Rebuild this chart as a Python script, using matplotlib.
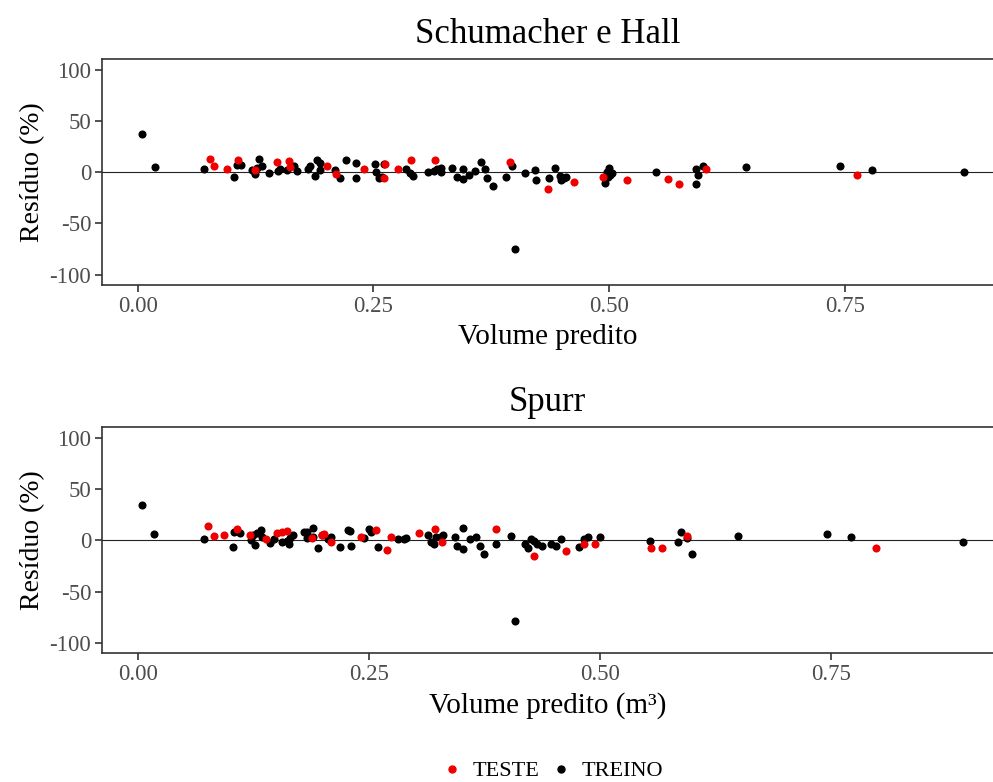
import matplotlib
matplotlib.use('Agg')
import matplotlib.pyplot as plt
from matplotlib.lines import Line2D

plt.rcParams['font.family'] = ['Liberation Serif', 'DejaVu Serif']
plt.rcParams['axes.unicode_minus'] = False

# Schumacher e Hall - residuals
sh_teste_x = [0.077, 0.081, 0.095, 0.106, 0.124, 0.148, 0.160, 0.161, 0.201, 0.210, 0.240, 0.262,
              0.261, 0.276, 0.290, 0.315, 0.395, 0.435, 0.463, 0.493, 0.519, 0.562, 0.574, 0.603, 0.763]
sh_teste_y = [12.6, 6.1, 3.2, 11.9, 2.2, 10.0, 10.5, 5.4, 6.3, -1.8, 3.2, 8.3,
              -5.8, 3.2, 11.9, 11.9, 9.7, -16.5, -10.0, -4.2, -7.8, -6.5, -11.3, 3.2, -2.6]

sh_treino_x = [0.005, 0.018, 0.070, 0.102, 0.105, 0.110, 0.121, 0.124, 0.126, 0.129, 0.132, 0.139,
               0.149, 0.151, 0.158, 0.166, 0.169, 0.181, 0.183, 0.190, 0.188, 0.193, 0.193, 0.209,
               0.215, 0.221, 0.231, 0.231, 0.252, 0.253, 0.256, 0.261, 0.259, 0.285, 0.289, 0.292,
               0.308, 0.314, 0.317, 0.322, 0.322, 0.333, 0.339, 0.345, 0.345, 0.351, 0.358, 0.364,
               0.368, 0.370, 0.377, 0.391, 0.397, 0.400, 0.411, 0.421, 0.422, 0.436, 0.442, 0.448,
               0.449, 0.452, 0.454, 0.495, 0.500, 0.498, 0.503, 0.499, 0.501, 0.550, 0.592, 0.594,
               0.592, 0.599, 0.645, 0.745, 0.779, 0.876]
sh_treino_y = [37.7, 5.4, 3.5, -4.9, 7.0, 7.5, 2.2, -2.0, 4.5, 12.6, 6.5, -0.5,
               1.0, 3.0, 2.0, 6.5, 1.5, 3.0, 6.0, 11.5, -3.6, 8.5, 2.2, 2.2,
               -5.6, 11.5, 8.5, -6.0, 8.3, 0.0, -5.8, 7.7, -4.2, 3.2, -1.0, -3.6,
               0.0, 1.3, 3.2, 4.5, 0.6, 3.9, -4.5, 2.7, -6.3, -2.6, 1.3, 9.7,
               3.2, -5.8, -13.9, -4.2, 6.4, -75.2, -1.0, 2.2, -7.5, -5.8, 4.5, -3.3,
               -7.5, -5.2, -4.2, -10.6, 3.9, 0.0, -1.0, -4.2, -2.6, 0.0, 2.9, -2.9,
               -11.6, 6.1, 4.8, 6.4, 2.5, 0.6]

# Spurr - residuals
sp_teste_x = [0.076, 0.082, 0.093, 0.107, 0.121, 0.139, 0.151, 0.156, 0.161, 0.189, 0.199, 0.202,
              0.209, 0.241, 0.258, 0.270, 0.274, 0.304, 0.321, 0.329, 0.388, 0.429, 0.463, 0.483,
              0.495, 0.555, 0.567, 0.594, 0.799]
sp_teste_y = [13.6, 3.9, 4.8, 11.2, 5.4, 1.5, 7.4, 8.0, 8.7, 2.2, 5.4, 5.8,
              -1.5, 3.2, 9.7, -9.7, 3.4, 7.4, 10.6, -1.6, 11.2, -15.2, -10.4, -3.3,
              -3.3, -7.7, -7.2, 4.5, -7.5]

sp_treino_x = [0.005, 0.018, 0.072, 0.103, 0.104, 0.111, 0.123, 0.125, 0.127, 0.129, 0.133, 0.134,
               0.143, 0.147, 0.156, 0.161, 0.164, 0.165, 0.168, 0.180, 0.183, 0.183, 0.190, 0.190,
               0.195, 0.199, 0.206, 0.209, 0.219, 0.227, 0.230, 0.231, 0.245, 0.250, 0.252, 0.260,
               0.281, 0.288, 0.290, 0.314, 0.317, 0.320, 0.323, 0.329, 0.330, 0.343, 0.345, 0.352,
               0.352, 0.359, 0.366, 0.370, 0.375, 0.388, 0.404, 0.408, 0.419, 0.422, 0.425, 0.429,
               0.432, 0.437, 0.447, 0.452, 0.458, 0.477, 0.483, 0.487, 0.500, 0.554, 0.584, 0.588,
               0.594, 0.600, 0.649, 0.746, 0.771, 0.893]
sp_treino_y = [34.8, 6.1, 1.3, -6.5, 8.3, 6.8, 0.0, 4.8, -4.8, 7.4, 9.7, 3.2,
               -2.3, 1.5, -1.6, -1.0, -3.3, 2.2, 5.4, 7.7, 7.7, 1.9, 11.6, 2.9,
               -7.8, 5.1, 1.5, 2.9, -6.8, 10.3, 8.8, -6.0, 2.5, 11.2, 7.7, -6.8,
               1.0, 1.0, 2.2, 5.4, -1.6, -3.3, 3.2, 4.2, 5.4, 3.2, -5.8, 11.9,
               -8.1, 1.0, 3.2, -5.8, -13.0, -3.9, 4.2, -78.8, -3.3, -7.5, 1.0, -1.0,
               -3.3, -5.8, -3.3, -5.8, 1.5, -6.5, 1.0, 3.2, 3.2, -0.4, -1.4, 7.7,
               1.9, -13.6, 4.5, 6.1, 3.5, -1.4]

x_ticks = [0.00, 0.25, 0.50, 0.75]
x_tick_labels = ['0.00', '0.25', '0.50', '0.75']
y_ticks = [-100, -50, 0, 50, 100]

RED = '#ee0000'
BLACK = '#000000'
GREY = '#333333'


def panel(ax, tx, ty, rx, ry, title, xlabel, xlim):
    ax.axhline(0, color='#222222', lw=0.8, zorder=1)
    ax.scatter(rx, ry, s=34, color=BLACK, lw=0, zorder=2)
    ax.scatter(tx, ty, s=34, color=RED, lw=0, zorder=3)
    ax.set_xlim(xlim)
    ax.set_ylim(-110, 110)
    ax.set_xticks(x_ticks)
    ax.set_xticklabels(x_tick_labels)
    ax.set_yticks(y_ticks)
    ax.tick_params(direction='out', length=5, width=1.2, color=GREY,
                   labelsize=16.5, labelcolor='#4d4d4d', pad=3)
    for s in ['left', 'bottom', 'top']:
        ax.spines[s].set_color(GREY)
        ax.spines[s].set_linewidth(1.2)
    ax.spines['right'].set_visible(False)
    ax.set_title(title, fontsize=25, pad=12)
    ax.set_xlabel(xlabel, fontsize=21, labelpad=5)
    ax.set_ylabel('Resíduo (%)', fontsize=20, labelpad=3)


fig = plt.figure(figsize=(9.93, 7.82), dpi=100)
ax1 = fig.add_axes([0.103, 0.6355, 0.897, 0.2886])
ax2 = fig.add_axes([0.103, 0.1646, 0.897, 0.2890])

panel(ax1, sh_teste_x, sh_teste_y, sh_treino_x, sh_treino_y,
      'Schumacher e Hall', 'Volume predito', (-0.0376, 0.907))
panel(ax2, sp_teste_x, sp_teste_y, sp_treino_x, sp_treino_y,
      'Spurr', 'Volume predito (m³)', (-0.0383, 0.925))

# legend at the bottom
handles = [Line2D([], [], ls='', marker='o', ms=5, color=RED, label='TESTE'),
           Line2D([], [], ls='', marker='o', ms=5, color=BLACK, label='TREINO')]
fig.legend(handles=handles, loc='center', bbox_to_anchor=(0.556, 0.014), ncol=2,
           frameon=False, fontsize=16, handletextpad=0.4, columnspacing=0.5,
           handlelength=1.0)

fig.savefig('out.png', dpi=100)
